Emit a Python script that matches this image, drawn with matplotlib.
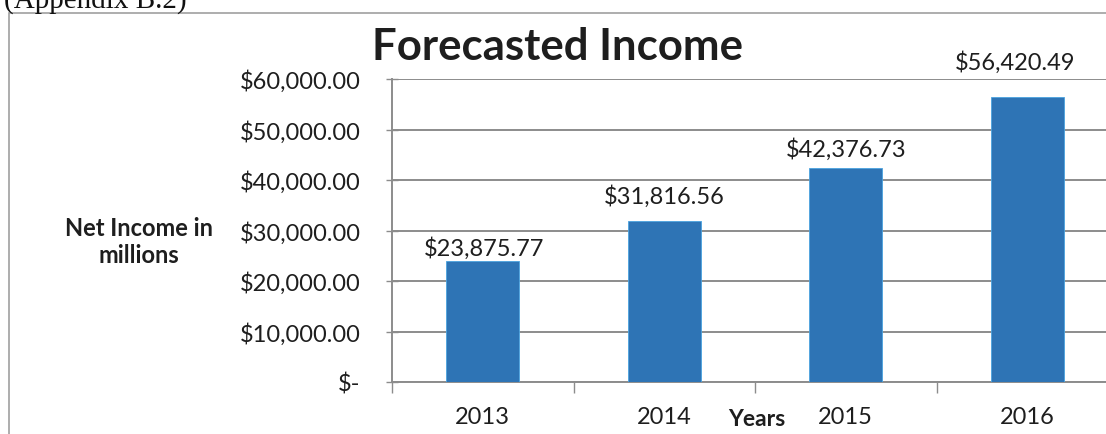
import numpy as np
import matplotlib
matplotlib.use("Agg")
import matplotlib.pyplot as plt
from matplotlib.patches import Rectangle

# ------------------------
# Dados
# ------------------------
anos = ["2013", "2014", "2015", "2016"]
receita = [23875.77, 31816.56, 42376.73, 56420.49]
y_ticks = [0, 10000, 20000, 30000, 40000, 50000, 60000]

# deslocamento dos rótulos em relação ao topo da barra (pt) - posicionados à mão no original
label_dx = [1, 0, 0, -9]
label_dy = [5, 13, 9, 20]

plt.rcParams['font.family'] = ['Lato', 'DejaVu Sans']

azul = '#2E74B5'
cinza = '#8c8c8c'
texto = '#1e1e1e'

fig = plt.figure(figsize=(11.06, 4.35), dpi=100)
ax = fig.add_axes([392/1106, 1 - 383/435, 726/1106, 303/435])

x = np.arange(len(anos))
ax.bar(x, receita, width=0.4, color=azul, edgecolor='#4aa3e0',
       linewidth=0.6, zorder=3)

# rótulos de dados
for xi, v, dx, dy in zip(x, receita, label_dx, label_dy):
    ax.annotate(f"${v:,.2f}", (xi, v), xytext=(dx, dy), textcoords='offset points',
                ha='center', va='baseline', fontsize=17, color=texto)

ax.set_xlim(-0.5, 3.5)
ax.set_ylim(0, 60000)

# eixo y
ax.set_yticks(y_ticks)
ax.set_yticklabels([f"${v:,.2f}" if v else "$-" for v in y_ticks])
ax.yaxis.grid(True, color=cinza, linewidth=1.4, zorder=0)
ax.tick_params(axis='y', direction='inout', length=9, width=1, color=cinza,
               labelsize=17, labelcolor=texto, pad=18)

# eixo x: marcas nas divisões, rótulos no centro
ax.set_xticks(np.arange(-0.5, 4, 1))
ax.set_xticklabels([])
ax.set_xticks(x, minor=True)
ax.set_xticklabels(anos, minor=True)
ax.tick_params(axis='x', which='major', direction='out', length=8, width=1, color=cinza)
ax.tick_params(axis='x', which='minor', length=0, labelsize=17,
               labelcolor=texto, pad=17)

for s in ['top', 'right']:
    ax.spines[s].set_visible(False)
for s in ['left', 'bottom']:
    ax.spines[s].set_color(cinza)
    ax.spines[s].set_linewidth(1.4)

# título e rótulos dos eixos
fig.text(557/1106, 1 - 47/435, "Forecasted Income", ha='center', va='center',
         fontsize=31.5, fontweight='bold', color=texto)
fig.text(139/1106, 1 - 242/435, "Net Income in\nmillions", ha='center', va='center',
         fontsize=17, fontweight='bold', color=texto, linespacing=1.2)
fig.text(757/1106, 1 - 420/435, "Years", ha='center', va='center',
         fontsize=16.5, fontweight='bold', color=texto)

# moldura do gráfico e texto do documento (cortado no topo, como no original)
fig.patches.append(Rectangle((9/1106, -0.1), 1.2, 1 - 14/435 + 0.1,
                             transform=fig.transFigure, fill=False,
                             edgecolor='#a0a0a0', linewidth=1.2))
fig.text(4/1106, 1 - 8/435, "(Appendix B.2)", ha='left', va='baseline',
         fontsize=21, family='Liberation Serif', color='#111111')

fig.savefig("out.png", dpi=100)
